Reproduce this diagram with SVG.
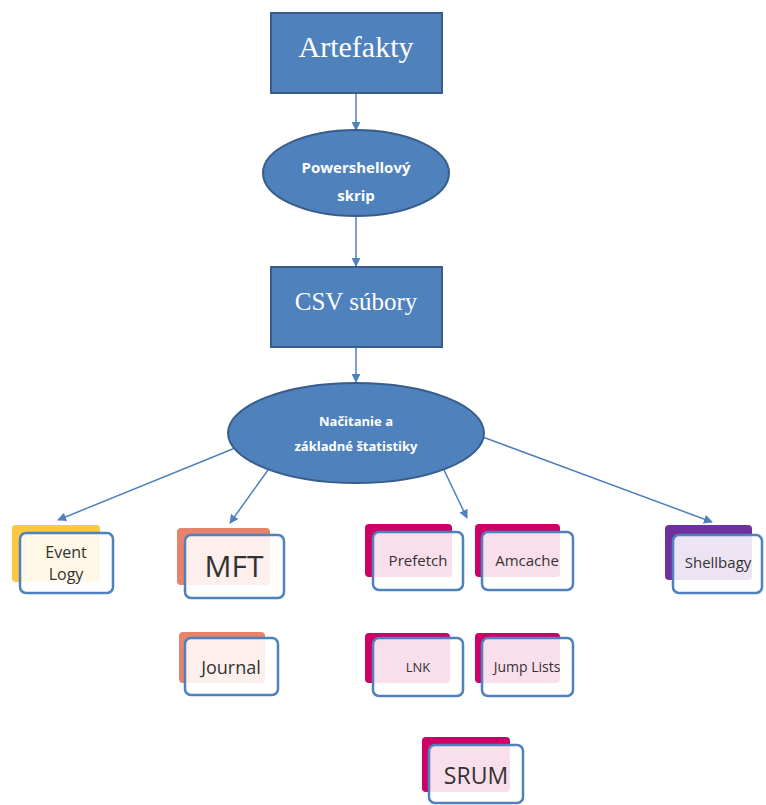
<svg xmlns="http://www.w3.org/2000/svg" width="766" height="805" viewBox="0 0 766 805">
<defs>
<style>
.blue{fill:#4f81bd;stroke:#385d8a;stroke-width:2}
.serif{font-family:"Liberation Serif",serif;fill:#fff;text-anchor:middle}
.sans{font-family:"Open Sans","Liberation Sans",sans-serif;text-anchor:middle}
.wb{fill:#fff;font-weight:bold}
.front{fill:#fff;fill-opacity:0.87;stroke:#4f81bd;stroke-width:2.5}
.lbl{fill:#333}
.conn{stroke:#4f81bd;stroke-width:1.5;fill:none;marker-end:url(#ah)}
</style>
<marker id="ah" viewBox="0 0 10 10" refX="9" refY="5" markerWidth="9" markerHeight="9" markerUnits="userSpaceOnUse" orient="auto">
<path d="M0,0 L10,5 L0,10 z" fill="#4f81bd"/>
</marker>
</defs>
<rect width="766" height="805" fill="#fff"/>
<g id="connectors">
<line class="conn" x1="356" y1="93" x2="356" y2="130"/>
<line class="conn" x1="356" y1="216" x2="356" y2="266"/>
<line class="conn" x1="356" y1="347" x2="356" y2="382"/>
<line class="conn" x1="240" y1="446" x2="58" y2="520"/>
<line class="conn" x1="268" y1="470" x2="230" y2="523"/>
<line class="conn" x1="444" y1="470" x2="467" y2="518"/>
<line class="conn" x1="480" y1="436" x2="712" y2="522"/>
</g>
<g id="artefakty">
<rect class="blue" x="271" y="13" width="171" height="80"/>
<text class="serif" x="356" y="57" font-size="30">Artefakty</text>
</g>
<g id="powershell">
<ellipse class="blue" cx="356" cy="173" rx="93" ry="43"/>
<text class="sans wb" x="356" y="173" font-size="15">Powershellový</text>
<text class="sans wb" x="356" y="201" font-size="15">skrip</text>
</g>
<g id="csv">
<rect class="blue" x="271" y="267" width="171" height="80"/>
<text class="serif" x="356" y="310" font-size="25">CSV súbory</text>
</g>
<g id="nacitanie">
<ellipse class="blue" cx="356" cy="433" rx="128" ry="50"/>
<text class="sans wb" x="356" y="426" font-size="13">Načitanie a</text>
<text class="sans wb" x="356" y="451" font-size="13">základné štatistiky</text>
</g>
<g id="eventlogy">
<rect x="12" y="525" width="88" height="57" rx="4" fill="#f9c940"/>
<rect class="front" x="20" y="533" width="93" height="60" rx="6"/>
<text class="sans lbl" x="66" y="558" font-size="16">Event</text>
<text class="sans lbl" x="66" y="580" font-size="16">Logy</text>
</g>
<g id="mft">
<rect x="177" y="528" width="93" height="57" rx="4" fill="#e8836b"/>
<rect class="front" x="185" y="535" width="99" height="63" rx="6"/>
<text class="sans lbl" x="234" y="577" font-size="30">MFT</text>
</g>
<g id="journal">
<rect x="179" y="632" width="86" height="51" rx="4" fill="#e8836b"/>
<rect class="front" x="185" y="638" width="93" height="57" rx="6"/>
<text class="sans lbl" x="231" y="674" font-size="18">Journal</text>
</g>
<g id="prefetch">
<rect x="365" y="524" width="87" height="53" rx="4" fill="#cc0066"/>
<rect class="front" x="373" y="532" width="90" height="58" rx="6"/>
<text class="sans lbl" x="418" y="566" font-size="15">Prefetch</text>
</g>
<g id="amcache">
<rect x="475" y="524" width="85" height="53" rx="4" fill="#cc0066"/>
<rect class="front" x="482" y="532" width="91" height="58" rx="6"/>
<text class="sans lbl" x="527" y="566" font-size="15">Amcache</text>
</g>
<g id="lnk">
<rect x="365" y="633" width="85" height="50" rx="4" fill="#cc0066"/>
<rect class="front" x="373" y="638" width="90" height="58" rx="6"/>
<text class="sans lbl" x="418" y="672" font-size="13">LNK</text>
</g>
<g id="jumplists">
<rect x="475" y="633" width="85" height="50" rx="4" fill="#cc0066"/>
<rect class="front" x="482" y="638" width="91" height="58" rx="6"/>
<text class="sans lbl" x="527" y="672" font-size="14">Jump Lists</text>
</g>
<g id="shellbagy">
<rect x="665" y="525" width="87" height="55" rx="4" fill="#7030a0"/>
<rect class="front" x="673" y="535" width="89" height="58" rx="6"/>
<text class="sans lbl" x="718" y="568" font-size="15">Shellbagy</text>
</g>
<g id="srum">
<rect x="422" y="737" width="88" height="55" rx="4" fill="#cc0066"/>
<rect class="front" x="429" y="745" width="94" height="58" rx="6"/>
<text class="sans lbl" x="476" y="784" font-size="23">SRUM</text>
</g>
</svg>
